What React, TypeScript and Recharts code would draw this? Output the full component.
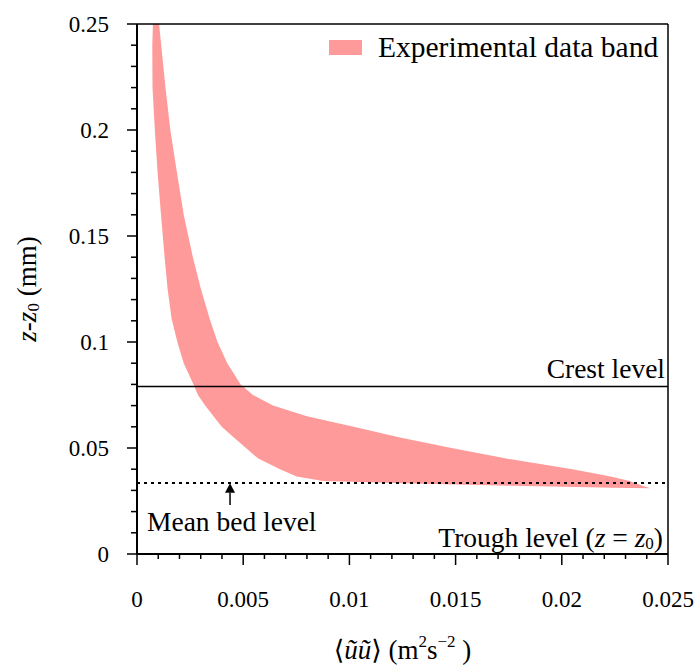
import React from 'react';
import { ComposedChart, Area, XAxis, YAxis, ReferenceLine, ReferenceDot, Legend, Label } from 'recharts';

// depth above trough, z - z0 (mm)
const zLevels = [0.25, 0.24, 0.22, 0.2, 0.18, 0.16, 0.14, 0.125, 0.111, 0.1, 0.09, 0.08, 0.075, 0.07, 0.065, 0.06, 0.055, 0.05, 0.045, 0.04, 0.0365, 0.0344, 0.0333, 0.0322, 0.0313, 0.031];
// lower and upper edges of the experimental band, <uu> (m^2 s^-2)
const bandLower = [0.00075, 0.00072, 0.00073, 0.00084, 0.00097, 0.00113, 0.0013, 0.00144, 0.00163, 0.0019, 0.0022, 0.00266, 0.00287, 0.00321, 0.0036, 0.00399, 0.00456, 0.00513, 0.00571, 0.00673, 0.00752, 0.00876, 0.013, 0.0177, 0.0224, 0.02415];
const bandUpper = [0.00104, 0.00114, 0.00134, 0.00157, 0.00188, 0.0022, 0.00263, 0.00301, 0.00342, 0.00379, 0.00425, 0.00488, 0.00546, 0.0064, 0.008, 0.0102, 0.01238, 0.01481, 0.01739, 0.0205, 0.0223, 0.0232, 0.0235, 0.0238, 0.0241, 0.02415];

const xTicks = [0, 0.001, 0.002, 0.003, 0.004, 0.005, 0.006, 0.007, 0.008, 0.009, 0.01, 0.011, 0.012, 0.013, 0.014, 0.015, 0.016, 0.017, 0.018, 0.019, 0.02, 0.021, 0.022, 0.023, 0.024, 0.025];
const xMajorTicks = [0, 0.005, 0.01, 0.015, 0.02, 0.025];
const yTicks = [0, 0.01, 0.02, 0.03, 0.04, 0.05, 0.06, 0.07, 0.08, 0.09, 0.1, 0.11, 0.12, 0.13, 0.14, 0.15, 0.16, 0.17, 0.18, 0.19, 0.2, 0.21, 0.22, 0.23, 0.24, 0.25];
const yMajorTicks = [0, 0.05, 0.1, 0.15, 0.2, 0.25];

const crestLevel = 0.079;
const meanBedLevel = 0.0335;
const arrowX = 0.00438;
const arrowBottom = 0.0231;
const arrowHeadBase = 0.0289;

const data = zLevels.map((z, i) => ({ z, band: [bandLower[i], bandUpper[i]] }));

const FONT = 'Liberation Serif, DejaVu Serif, serif';
const BAND = '#ff9a9a';

const txt = (size: number) => ({ fontFamily: FONT, fontSize: size, fill: '#000' });

const XTick = (props: any) => {
  const { x, y, payload } = props;
  const major = xMajorTicks.includes(payload.value);
  return (
    <g>
      <line x1={x} x2={x} y1={y} y2={y + (major ? 11 : 5)} stroke="#000" strokeWidth={1.5} />
      {major && (
        <text x={x} y={y + 45} textAnchor="middle" dominantBaseline="central" fontFamily={FONT} style={txt(23)}>
          {String(payload.value)}
        </text>
      )}
    </g>
  );
};

const YTick = (props: any) => {
  const { x, y, payload } = props;
  const major = yMajorTicks.includes(payload.value);
  return (
    <g>
      <line x1={x - (major ? 10 : 6)} x2={x} y1={y} y2={y} stroke="#000" strokeWidth={1.5} />
      {major && (
        <text x={x - 28} y={y} textAnchor="end" dominantBaseline="central" fontFamily={FONT} style={txt(23)}>
          {String(payload.value)}
        </text>
      )}
    </g>
  );
};

const YAxisTitle = (p: any) => {
  const vb = p.viewBox;
  const cx = vb.x + 27;
  const cy = vb.y + vb.height / 2;
  return (
    <text x={cx} y={cy} transform={`rotate(-90 ${cx} ${cy})`} textAnchor="middle" dominantBaseline="central" fontFamily={FONT} style={txt(27)}>
      <tspan fontStyle="italic">z</tspan>
      <tspan>-</tspan>
      <tspan fontStyle="italic">z</tspan>
      <tspan dy={6} fontSize={17}>0</tspan>
      <tspan dy={-6}> (mm)</tspan>
    </text>
  );
};

const XAxisTitle = (p: any) => {
  const vb = p.viewBox;
  const cx = vb.x + vb.width / 2;
  const cy = vb.y + 96;
  return (
    <text x={cx} y={cy} textAnchor="middle" dominantBaseline="central" fontFamily={FONT} style={txt(27)}>
      <tspan>{'\u27E8'}</tspan>
      <tspan fontStyle="italic">{'\u0169\u0169'}</tspan>
      <tspan>{'\u27E9 (m'}</tspan>
      <tspan dy={-9} fontSize={17}>2</tspan>
      <tspan dy={9}>s</tspan>
      <tspan dy={-9} fontSize={17}>{'\u22122'}</tspan>
      <tspan dy={9}>{' )'}</tspan>
    </text>
  );
};

const CrestLabel = (p: any) => {
  const vb = p.viewBox;
  return (
    <text x={vb.x + vb.width - 3} y={vb.y - 18} textAnchor="end" dominantBaseline="central" fontFamily={FONT} style={txt(27.5)}>
      Crest level
    </text>
  );
};

const MeanBedLabel = (p: any) => {
  const vb = p.viewBox;
  return (
    <text x={vb.x + 10} y={vb.y + 39} textAnchor="start" dominantBaseline="central" fontFamily={FONT} style={txt(27.5)}>
      Mean bed level
    </text>
  );
};

const TroughLabel = (p: any) => {
  const vb = p.viewBox;
  return (
    <text x={vb.x + vb.width - 5} y={vb.y - 17} textAnchor="end" dominantBaseline="central" fontFamily={FONT} style={txt(27.5)}>
      <tspan>Trough level (</tspan>
      <tspan fontStyle="italic">z</tspan>
      <tspan> = </tspan>
      <tspan fontStyle="italic">z</tspan>
      <tspan dy={6} fontSize={17}>0</tspan>
      <tspan dy={-6}>)</tspan>
    </text>
  );
};

const ArrowHead = (p: any) => {
  const { cx, cy } = p;
  return <polygon points={`${cx},${cy - 9.5} ${cx - 5},${cy} ${cx + 5},${cy}`} fill="#000" />;
};

const LegendContent = (p: any) => {
  const item = (p.payload && p.payload[0]) || { value: 'Experimental data band' };
  return (
    <div style={{ display: 'flex', alignItems: 'center', height: 34 }}>
      <span style={{ display: 'inline-block', width: 33, height: 15, background: BAND }} />
      <span style={{ marginLeft: 16, fontFamily: FONT, fontSize: 29.5, lineHeight: '34px', color: '#000', whiteSpace: 'nowrap' }}>
        {item.value}
      </span>
    </div>
  );
};

export default function App() {
  return (
    <div style={{ width: 697, height: 666, fontFamily: FONT }}>
      <style>{'html, body { margin: 0; padding: 0; overflow: hidden; }'}</style>
      <ComposedChart
        width={697}
        height={666}
        data={data}
        layout="vertical"
        margin={{ top: 24, right: 29, bottom: 0, left: 0 }}
      >
        <XAxis
          type="number"
          domain={[0, 0.025]}
          allowDataOverflow
          ticks={xTicks}
          interval={0}
          tick={XTick}
          tickLine={false}
          tickSize={0}
          tickMargin={0}
          height={112}
          axisLine={{ stroke: '#000', strokeWidth: 2 }}
          label={<Label content={XAxisTitle} />}
        />
        <YAxis
          type="number"
          dataKey="z"
          domain={[0, 0.25]}
          reversed
          allowDataOverflow
          ticks={yTicks}
          interval={0}
          tick={YTick}
          tickLine={false}
          tickSize={0}
          tickMargin={0}
          width={137}
          axisLine={{ stroke: '#000', strokeWidth: 2 }}
          label={<Label content={YAxisTitle} />}
        />
        <Area
          dataKey="band"
          name="Experimental data band"
          type="linear"
          stroke="none"
          fill={BAND}
          fillOpacity={1}
          isAnimationActive={false}
          legendType="rect"
        />
        <ReferenceLine y={0.25} stroke="#000" strokeWidth={1.5} />
        <ReferenceLine x={0.025} stroke="#000" strokeWidth={1.5} />
        <ReferenceLine y={crestLevel} stroke="#000" strokeWidth={1.5} label={<Label content={CrestLabel} />} />
        <ReferenceLine
          y={meanBedLevel}
          stroke="#000"
          strokeWidth={2}
          strokeDasharray="3 4"
          label={<Label content={MeanBedLabel} />}
        />
        <ReferenceLine y={0} stroke="none" label={<Label content={TroughLabel} />} />
        <ReferenceLine
          segment={[{ x: arrowX, y: arrowBottom }, { x: arrowX, y: arrowHeadBase }]}
          stroke="#000"
          strokeWidth={1.5}
        />
        <ReferenceDot x={arrowX} y={arrowHeadBase} r={5} shape={ArrowHead} />
        <Legend
          layout="vertical"
          align="center"
          verticalAlign="middle"
          wrapperStyle={{ position: 'absolute', left: 329, top: 30, width: 360, height: 34 }}
          content={LegendContent}
        />
      </ComposedChart>
    </div>
  );
}
